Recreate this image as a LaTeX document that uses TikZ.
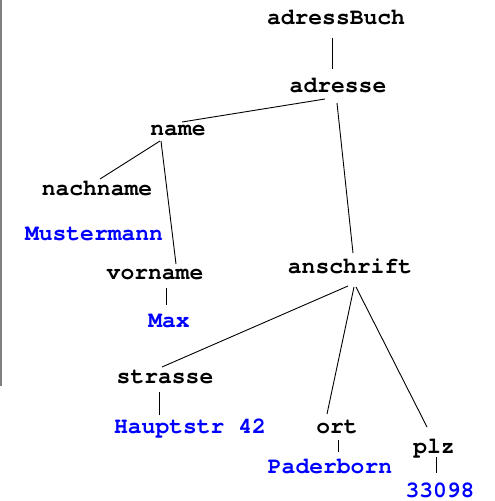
\documentclass[tikz,border=0pt]{standalone}
\usepackage{fontspec}
\setmonofont{TeX Gyre Cursor}
\begin{document}
\begin{tikzpicture}[x=1pt,y=-1pt,
  lbl/.style={anchor=base,inner sep=0pt,font=\fontsize{23}{27}\selectfont\ttfamily\bfseries},
  elem/.style={lbl,text=black},
  val/.style={lbl,text=blue},
  edge/.style={draw=black,line width=0.9pt}]
\useasboundingbox (0,0) rectangle (495,501);
\draw[gray,line width=1.5pt] (1,0) -- (1,386);
\node[elem] (adressBuch) at (336,24) {adressBuch};
\node[elem] (adresse) at (338,92) {adresse};
\node[elem] (name) at (178,135) {name};
\node[elem] (nachname) at (97,195) {nachname};
\node[val] (muster) at (94,240) {Mustermann};
\node[elem] (vorname) at (155,279) {vorname};
\node[val] (max) at (169,327) {Max};
\node[elem] (anschrift) at (350,273) {anschrift};
\node[elem] (strasse) at (165,383) {strasse};
\node[val] (haupt) at (190,433) {Hauptstr 42};
\node[elem] (ort) at (337,433) {ort};
\node[val] (pader) at (330,473) {Paderborn};
\node[elem] (plz) at (434,453) {plz};
\node[val] (zip) at (440,497) {33098};
\path[edge] ([shift={(-4,14)}]adressBuch.base) -- ([shift={(-6,-23)}]adresse.base);
\path[edge] ([shift={(-13,7)}]adresse.base) -- ([shift={(4,-13)}]name.base);
\path[edge] ([shift={(-1,11)}]adresse.base) -- ([shift={(3,-20)}]anschrift.base);
\path[edge] ([shift={(-18,6)}]name.base) -- ([shift={(3,-16)}]nachname.base);
\path[edge] ([shift={(-17,6)}]name.base) -- ([shift={(21,-15)}]vorname.base);
\path[edge] ([shift={(11,9)}]vorname.base) -- ([shift={(-3,-22)}]max.base);
\path[edge] ([shift={(-2,13)}]anschrift.base) -- ([shift={(-3,-16)}]strasse.base);
\path[edge] ([shift={(4,14)}]anschrift.base) -- ([shift={(-10,-19)}]ort.base);
\path[edge] ([shift={(6,14)}]anschrift.base) -- ([shift={(-7,-26)}]plz.base);
\path[edge] ([shift={(-6,9)}]strasse.base) -- ([shift={(-31,-18)}]haupt.base);
\path[edge] ([shift={(1,7)}]ort.base) -- ([shift={(8,-21)}]pader.base);
\path[edge] ([shift={(2,4)}]plz.base) -- ([shift={(-4,-24)}]zip.base);
\end{tikzpicture}
\end{document}
